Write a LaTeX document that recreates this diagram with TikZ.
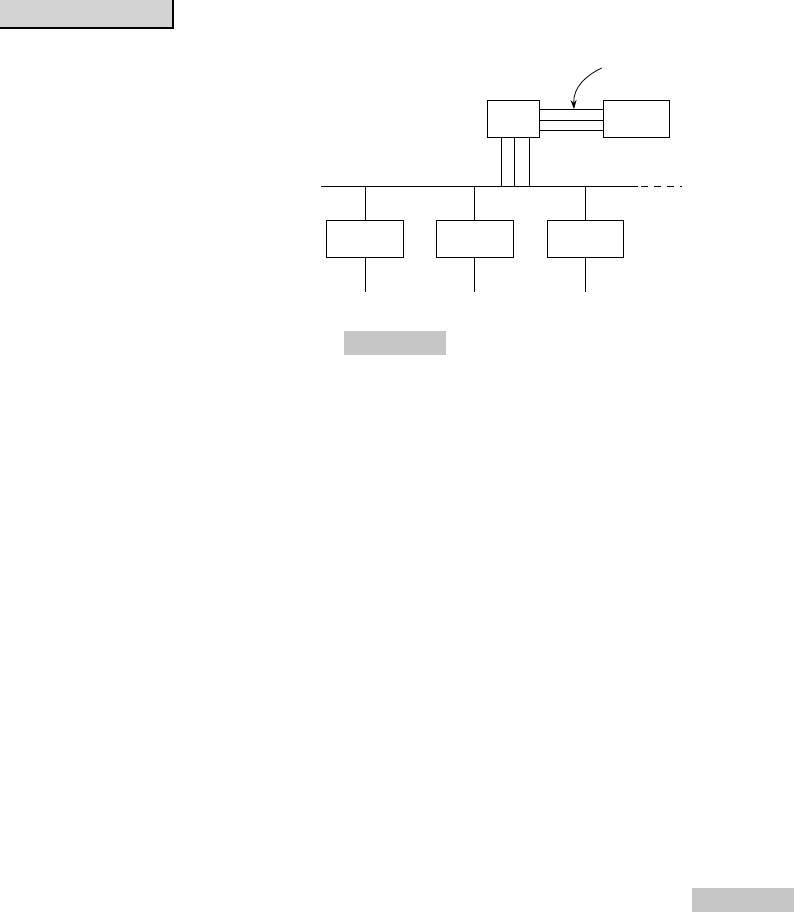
\documentclass[tikz,border=0pt]{standalone}
\usetikzlibrary{arrows.meta}
\definecolor{graybox}{HTML}{D3D3D3}
\definecolor{grayband}{HTML}{C6C6C6}
\tikzset{
  unit/.style={draw=black, line width=0.9pt, fill=white},
  wire/.style={draw=black, line width=0.9pt},
}
\begin{document}
\begin{tikzpicture}[x=1pt,y=-1pt]
\useasboundingbox (0,0) rectangle (794,912);
% top-left label band
\fill[graybox] (0,0) rectangle (173,28);
\draw[line width=2.6pt] (0,28) -- (173,28) -- (173,-2);
% gray bands
\fill[grayband] (344,331) rectangle (446,355);
\fill[grayband] (692,888) rectangle (794,912);
% top units
\node[unit, minimum width=52pt, minimum height=36.6pt, inner sep=0pt] (ta) at (513.3,119) {};
\node[unit, minimum width=66pt, minimum height=36.6pt, inner sep=0pt] (tb) at (636.3,119) {};
% connections between top units
\foreach \yy in {109.3,120.3,130.3} {
  \draw[wire] (ta.east |- 0,\yy) -- (tb.west |- 0,\yy);
}
% bus
\coordinate (busL) at (321,186);
\coordinate (busR) at (638,186);
\coordinate (busE) at (682,186);
\draw[wire] (busL) -- (busR);
\draw[wire, dash pattern=on 7pt off 6pt] (641,186) -- (busE);
% vertical links from ta to bus
\foreach \xx in {501.7,514.3,529.3} {
  \draw[wire] (ta.south -| \xx,0) -- (\xx,186);
}
% lower units
\node[unit, minimum width=77.4pt, minimum height=37.3pt, inner sep=0pt] (b1) at (365,238.7) {};
\node[unit, minimum width=77.3pt, minimum height=37.3pt, inner sep=0pt] (b2) at (474.7,238.7) {};
\node[unit, minimum width=76.3pt, minimum height=37.3pt, inner sep=0pt] (b3) at (585.2,238.7) {};
\foreach \n in {b1,b2,b3} {
  \draw[wire] (\n.north) -- (\n.north |- busL);
  \coordinate (\n e) at ([yshift=-34.4pt]\n.south);
  \draw[wire] (\n.south) -- (\n e);
}
% curved arrow
\coordinate (arrS) at (601.7,68);
\coordinate (arrT) at (574,109);
\draw[line width=0.8pt, -{Stealth[length=9pt,width=6pt]}] (arrS) .. controls (585,76) and (573,88) .. (arrT);
\end{tikzpicture}
\end{document}
